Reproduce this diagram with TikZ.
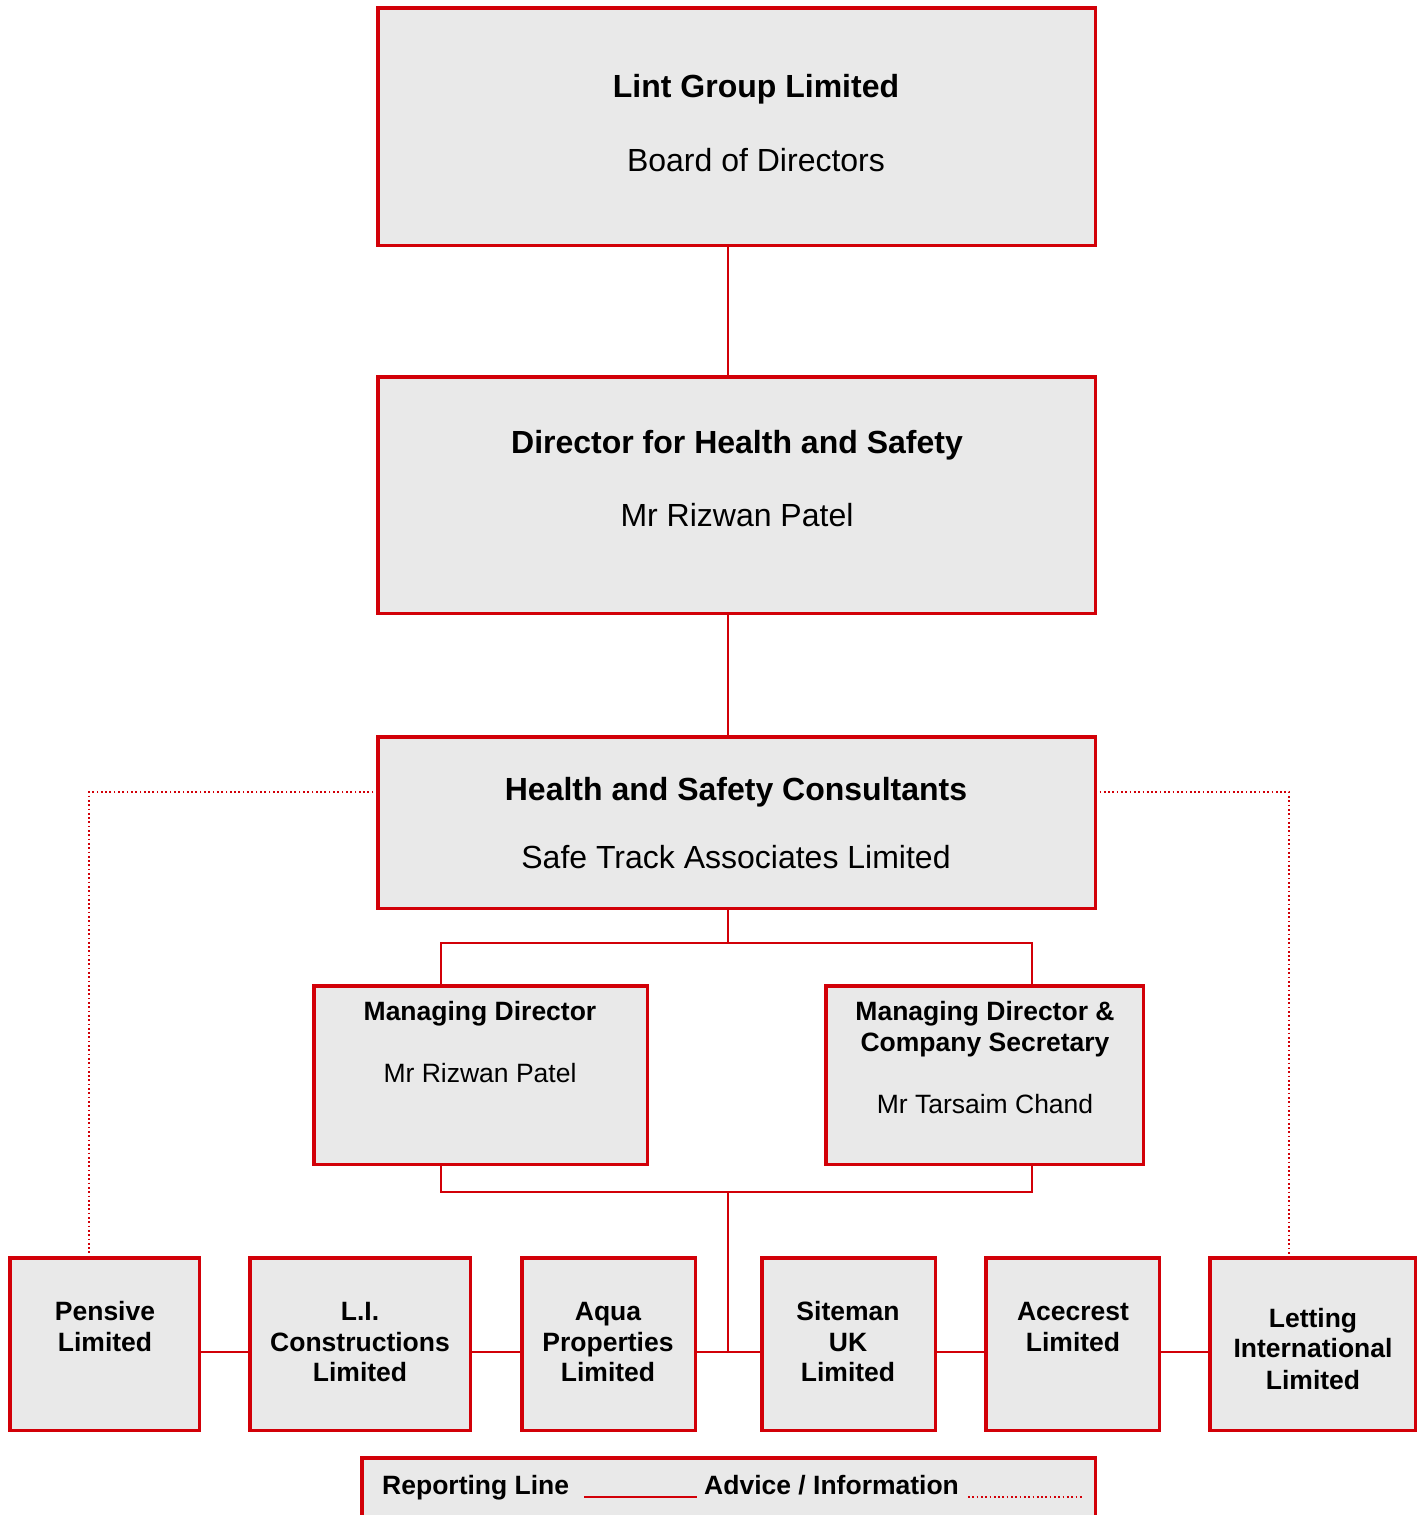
\documentclass[tikz,border=0pt]{standalone}
\usepackage{fontspec}
\setmainfont{Liberation Sans}
\definecolor{bred}{RGB}{210,0,8}
\definecolor{bgray}{RGB}{233,233,233}
\tikzset{
  box/.style={draw=bred, fill=bgray, line width=3.5pt, inner sep=0pt, outer sep=0pt, rectangle},
  conn/.style={draw=bred, line width=1.8pt},
  advice/.style={draw=bred, line width=1.9pt, dash pattern=on 1.7pt off 2.6pt},
  big/.style={font=\fontsize{32}{38}\selectfont, anchor=base, inner sep=0pt},
  bigb/.style={font=\fontsize{32}{38}\selectfont\bfseries, anchor=base, inner sep=0pt},
  sm/.style={font=\fontsize{26.5}{31}\selectfont, anchor=base, inner sep=0pt},
  smb/.style={font=\fontsize{26.5}{31}\selectfont\bfseries, anchor=base, inner sep=0pt},
}
% #1 name, #2 x1, #3 y1, #4 x2, #5 y2 (outer edges, pixels)
\newcommand\orgbox[5]{%
  \node[box, minimum width={(#4-#2-3.5)*1pt}, minimum height={(#5-#3-3.5)*1pt}]
    (#1) at ({(#2+#4)/2},{(#3+#5)/2}) {};}
\begin{document}
\begin{tikzpicture}[x=1pt,y=-1pt]
\useasboundingbox (0,0) rectangle (1424,1515);

% main boxes
\orgbox{top}{376}{6}{1097}{247}
\orgbox{dhs}{376}{375}{1097}{615}
\orgbox{hsc}{376}{735}{1097}{910}
\orgbox{md}{312}{984}{649}{1166}
\orgbox{mdcs}{824}{984}{1145}{1166}
\orgbox{pens}{8}{1256}{201}{1432}
\orgbox{lic}{248}{1256}{472}{1432}
\orgbox{aqua}{520}{1256}{697}{1432}
\orgbox{site}{760}{1256}{937}{1432}
\orgbox{acec}{984}{1256}{1161}{1432}
\orgbox{lett}{1208}{1256}{1417}{1432}
\orgbox{legend}{360}{1456}{1097}{1530}

% helper coordinates
\coordinate (c728) at (728,0);
\coordinate (c441) at (441,0);
\coordinate (c1032) at (1032,0);
\coordinate (c89) at (89,0);
\coordinate (c1289) at (1289,0);
\coordinate (j1) at (728,943);
\coordinate (j2) at (728,1192);
\coordinate (hy) at (0,1352);
\coordinate (dy) at (0,792);

% reporting lines
\draw[conn] (top.south -| c728) -- (dhs.north -| c728);
\draw[conn] (dhs.south -| c728) -- (hsc.north -| c728);
\draw[conn] (hsc.south -| c728) -- (j1);
\draw[conn] (md.north -| c441) |- (j1) -| (mdcs.north -| c1032);
\draw[conn] (md.south -| c441) |- (j2) -| (mdcs.south -| c1032);
\draw[conn] (j2) -- (c728 |- hy);
\draw[conn] (pens.east |- hy) -- (lic.west |- hy);
\draw[conn] (lic.east |- hy) -- (aqua.west |- hy);
\draw[conn] (aqua.east |- hy) -- (site.west |- hy);
\draw[conn] (site.east |- hy) -- (acec.west |- hy);
\draw[conn] (acec.east |- hy) -- (lett.west |- hy);

% advice lines
\draw[advice] (hsc.west |- dy) -| (pens.north -| c89);
\draw[advice] (hsc.east |- dy) -| (lett.north -| c1289);

% texts
\node[bigb] (t1) at (756,97) {Lint Group Limited};
\node[big] (t2) at (756,171) {Board of Directors};
\node[bigb] (t3) at (737,453) {Director for Health and Safety};
\node[big] (t4) at (737,526) {Mr Rizwan Patel};
\node[bigb] (t5) at (736,800) {Health and Safety Consultants};
\node[big] (t6) at (736,868) {Safe Track Associates Limited};

\node[smb] (t7) at (480,1020.5) {Managing Director};
\node[sm] (t8) at (480,1082.5) {Mr Rizwan Patel};
\node[smb] (t9) at (985,1020.5) {Managing Director \&};
\node[smb] (t10) at (985,1051.5) {Company Secretary};
\node[sm] (t11) at (985,1113.5) {Mr Tarsaim Chand};

\node[smb] (p1) at (105,1320.5) {Pensive};
\node[smb] (p2) at (105,1351.5) {Limited};
\node[smb] (l1) at (360,1320.5) {L.I.};
\node[smb] (l2) at (360,1351.5) {Constructions};
\node[smb] (l3) at (360,1381.5) {Limited};
\node[smb] (a1) at (608,1320.5) {Aqua};
\node[smb] (a2) at (608,1351.5) {Properties};
\node[smb] (a3) at (608,1381.5) {Limited};
\node[smb] (s1) at (848,1320.5) {Siteman};
\node[smb] (s2) at (848,1351.5) {UK};
\node[smb] (s3) at (848,1381.5) {Limited};
\node[smb] (e1) at (1073,1320.5) {Acecrest};
\node[smb] (e2) at (1073,1351.5) {Limited};
\node[smb] (g1) at (1313,1327.5) {Letting};
\node[smb] (g2) at (1313,1357.5) {International};
\node[smb] (g3) at (1313,1389.5) {Limited};

% legend
\node[smb, anchor=base west] (lg1) at (382,1494.5) {Reporting Line};
\node[smb, anchor=base west] (lg2) at (704,1494.5) {Advice / Information};
\coordinate (ls1) at (584,1497);
\coordinate (ls2) at (697,1497);
\coordinate (ld1) at (968,1497);
\coordinate (ld2) at (1082,1497);
\draw[conn] (ls1) -- (ls2);
\draw[advice] (ld1) -- (ld2);
\end{tikzpicture}
\end{document}
